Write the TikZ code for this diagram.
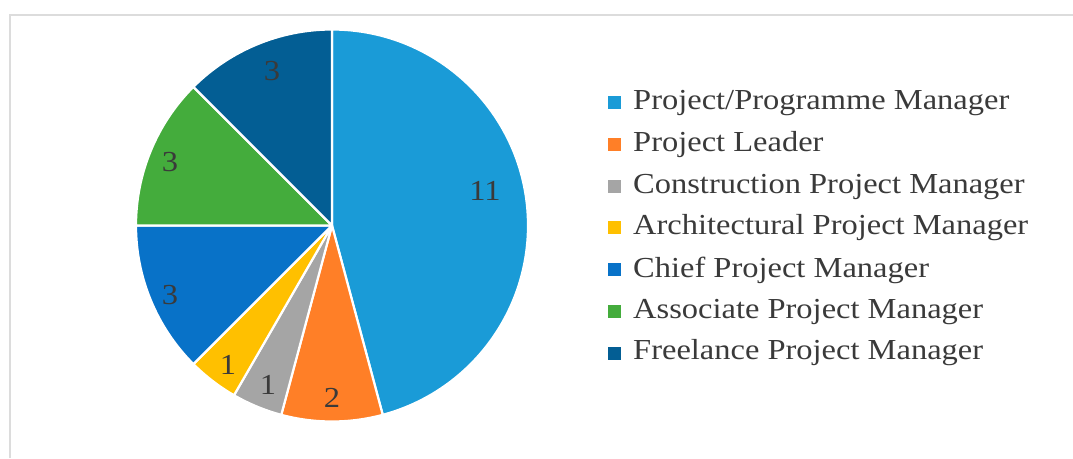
\documentclass[tikz,border=0pt]{standalone}
\usepackage{fontspec}
\setmainfont{Liberation Serif}[FakeStretch=1.12]
\definecolor{cPPM}{HTML}{1A9BD7}
\definecolor{cLead}{HTML}{FF7F27}
\definecolor{cCons}{HTML}{A5A5A5}
\definecolor{cArch}{HTML}{FFC000}
\definecolor{cChief}{HTML}{0872C8}
\definecolor{cAssoc}{HTML}{44AC3C}
\definecolor{cFree}{HTML}{035E94}
\definecolor{txt}{HTML}{3A3A3A}
\definecolor{frame}{HTML}{DCDCDC}
\tikzset{
  slice/.style={draw=white, line width=2.2pt, line join=round},
  val/.style={text=txt, font=\fontsize{29}{31}\selectfont, inner sep=0pt},
  key/.style={minimum size=13pt, inner sep=0pt},
  lab/.style={text=txt, font=\fontsize{29}{31}\selectfont, anchor=west, inner sep=0pt},
}
\begin{document}
\begin{tikzpicture}[x=1pt,y=1pt]
\useasboundingbox (0,0) rectangle (1073,458);
\fill[white] (0,0) rectangle (1073,458);
\draw[frame, line width=1.5pt] (10,0) -- (10,443) -- (1073,443);
\coordinate (c) at (332,232.5);
\def\R{196}
\filldraw[slice, fill=cPPM] (c) -- ++(90:\R) arc[start angle=90, end angle=-75, radius=\R] -- cycle;
\filldraw[slice, fill=cLead] (c) -- ++(-75:\R) arc[start angle=-75, end angle=-105, radius=\R] -- cycle;
\filldraw[slice, fill=cCons] (c) -- ++(-105:\R) arc[start angle=-105, end angle=-120, radius=\R] -- cycle;
\filldraw[slice, fill=cArch] (c) -- ++(-120:\R) arc[start angle=-120, end angle=-135, radius=\R] -- cycle;
\filldraw[slice, fill=cChief] (c) -- ++(-135:\R) arc[start angle=-135, end angle=-180, radius=\R] -- cycle;
\filldraw[slice, fill=cAssoc] (c) -- ++(180:\R) arc[start angle=180, end angle=135, radius=\R] -- cycle;
\filldraw[slice, fill=cFree] (c) -- ++(135:\R) arc[start angle=135, end angle=90, radius=\R] -- cycle;
% values
\node[val] (vPPM) at (485,267) {11};
\node[val] (vLead) at (332,60) {2};
\node[val] (vCons) at (268,73) {1};
\node[val] (vArch) at (228,93) {1};
\node[val] (vChief) at (170,163) {3};
\node[val] (vAssoc) at (170,296) {3};
\node[val] (vFree) at (272,387) {3};
% legend
\node[key, fill=cPPM] (k1) at (614.5,355) {};
\node[key, fill=cLead] (k2) at (614.5,313) {};
\node[key, fill=cCons] (k3) at (614.5,271) {};
\node[key, fill=cArch] (k4) at (614.5,230) {};
\node[key, fill=cChief] (k5) at (614.5,188) {};
\node[key, fill=cAssoc] (k6) at (614.5,146) {};
\node[key, fill=cFree] (k7) at (614.5,105) {};
\node[lab] (l1) at (633,355) {Project/Programme Manager};
\node[lab] (l2) at (633,313) {Project Leader};
\node[lab] (l3) at (633,271) {Construction Project Manager};
\node[lab] (l4) at (633,230) {Architectural Project Manager};
\node[lab] (l5) at (633,188) {Chief Project Manager};
\node[lab] (l6) at (633,146) {Associate Project Manager};
\node[lab] (l7) at (633,105) {Freelance Project Manager};
\end{tikzpicture}
\end{document}
